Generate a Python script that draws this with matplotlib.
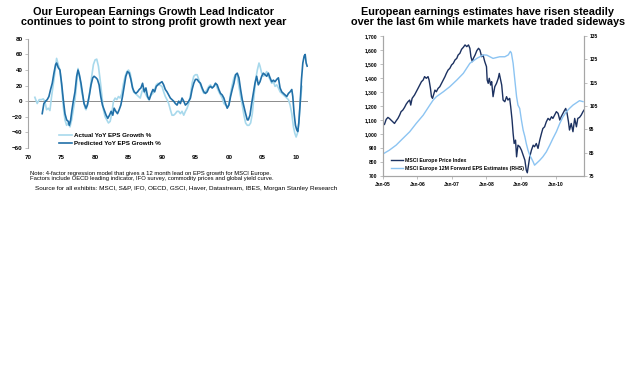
import matplotlib
matplotlib.use("Agg")
import matplotlib.pyplot as plt
from matplotlib.ticker import FuncFormatter

plt.rcParams['font.family'] = ['Liberation Sans', 'DejaVu Sans']

# left chart: YoY EPS growth %, years as decimals
actual_yr = [1971.0, 1971.35, 1971.65, 1972.0, 1972.25, 1972.5, 1972.75, 1973.0, 1973.25, 1973.5,
             1973.85, 1974.05, 1974.25, 1974.5, 1974.75, 1975.0, 1975.25, 1975.5, 1975.75, 1976.0,
             1976.25, 1976.5, 1976.75, 1977.0, 1977.25, 1977.45, 1977.75, 1978.0, 1978.25, 1978.5,
             1978.65, 1979.0, 1979.25, 1979.5, 1979.75, 1980.0, 1980.25, 1980.5, 1980.75, 1981.0,
             1981.25, 1981.5, 1981.75, 1982.0, 1982.25, 1982.5, 1982.75, 1983.0, 1983.25, 1983.5,
             1983.75, 1984.0, 1984.25, 1984.5, 1984.75, 1985.0, 1985.25, 1985.5, 1985.75, 1986.0,
             1986.25, 1986.5, 1986.75, 1987.0, 1987.25, 1987.5, 1987.75, 1988.0, 1988.4, 1988.65,
             1988.9, 1989.15, 1989.4, 1989.65, 1990.0, 1990.25, 1990.5, 1990.75, 1991.0, 1991.25,
             1991.5, 1991.75, 1992.0, 1992.25, 1992.5, 1992.75, 1993.0, 1993.25, 1993.5, 1993.75,
             1994.0, 1994.25, 1994.5, 1994.75, 1995.0, 1995.25, 1995.5, 1995.75, 1996.0, 1996.25,
             1996.5, 1996.75, 1997.0, 1997.25, 1997.5, 1997.75, 1998.0, 1998.25, 1998.5, 1998.75,
             1999.0, 1999.25, 1999.5, 1999.75, 2000.0, 2000.25, 2000.5, 2000.75, 2001.0, 2001.25,
             2001.5, 2001.75, 2002.0, 2002.25, 2002.5, 2002.75, 2003.0, 2003.25, 2003.5, 2003.75,
             2004.0, 2004.25, 2004.5, 2004.65, 2004.9, 2005.15, 2005.4, 2005.65, 2005.9, 2006.15,
             2006.4, 2006.65, 2006.9, 2007.15, 2007.4, 2007.65, 2007.9, 2008.15, 2008.4, 2008.65,
             2008.9, 2009.15, 2009.4, 2009.65, 2009.85, 2010.05, 2010.25, 2010.45, 2010.65, 2010.9]
actual = [5, -3, 2, 2, 3, 0, -11, -9, -12, 6,
          28, 40, 55, 47, 40, 19, -7, -24, -31, -28,
          -33, -24, -11, 2, 23, 42, 28, 12, 2, -9,
          -11, 0, 15, 32, 47, 53, 54, 45, 28, 8,
          -11, -20, -24, -28, -26, -16, 0, 4, 2, 6,
          4, 10, 23, 32, 38, 40, 36, 23, 12, 10,
          8, 6, 4, 12, 17, 10, 6, 2, 8, 10,
          15, 21, 23, 21, 19, 12, 6, 2, -3, -11,
          -18, -18, -16, -13, -13, -16, -13, -18, -13, -9,
          -3, 8, 23, 32, 34, 34, 28, 21, 15, 10,
          12, 15, 19, 21, 17, 19, 23, 17, 12, 8,
          4, -3, -5, -7, -5, 10, 21, 30, 34, 32,
          19, 6, -5, -18, -28, -31, -31, -28, -16, 6,
          28, 40, 49, 45, 36, 32, 34, 38, 32, 28,
          23, 25, 19, 21, 17, 12, 10, 8, 6, 4,
          2, -5, -16, -33, -41, -46, -41, -28, -3, 19]

pred_yr = [1972.1, 1972.35, 1972.6, 1972.85, 1973.1, 1973.35, 1973.6, 1973.85, 1974.1, 1974.25,
           1974.5, 1974.75, 1975.0, 1975.25, 1975.5, 1975.75, 1976.0, 1976.15, 1976.35, 1976.55,
           1976.75, 1977.0, 1977.25, 1977.45, 1977.65, 1977.9, 1978.15, 1978.35, 1978.65, 1978.85,
           1979.15, 1979.4, 1979.65, 1979.85, 1980.15, 1980.35, 1980.6, 1980.85, 1981.1, 1981.35,
           1981.65, 1981.9, 1982.15, 1982.4, 1982.65, 1982.85, 1983.1, 1983.35, 1983.6, 1983.85,
           1984.1, 1984.35, 1984.6, 1984.85, 1985.1, 1985.35, 1985.6, 1985.85, 1986.1, 1986.35,
           1986.6, 1986.85, 1987.1, 1987.35, 1987.6, 1987.85, 1988.1, 1988.4, 1988.65, 1988.9,
           1989.15, 1989.4, 1989.65, 1990.0, 1990.25, 1990.5, 1990.75, 1991.0, 1991.25, 1991.5,
           1991.75, 1992.0, 1992.25, 1992.5, 1992.75, 1993.0, 1993.25, 1993.5, 1993.75, 1994.0,
           1994.25, 1994.5, 1994.75, 1995.0, 1995.25, 1995.5, 1995.75, 1996.0, 1996.25, 1996.5,
           1996.75, 1997.0, 1997.25, 1997.5, 1997.75, 1998.0, 1998.25, 1998.5, 1998.75, 1999.0,
           1999.25, 1999.5, 1999.75, 2000.0, 2000.25, 2000.5, 2000.75, 2001.0, 2001.25, 2001.5,
           2001.75, 2002.0, 2002.25, 2002.5, 2002.75, 2002.9, 2003.15, 2003.4, 2003.65, 2003.9,
           2004.15, 2004.4, 2004.65, 2004.9, 2005.15, 2005.4, 2005.65, 2005.9, 2006.15, 2006.4,
           2006.65, 2006.9, 2007.15, 2007.4, 2007.65, 2007.9, 2008.15, 2008.4, 2008.65, 2008.9,
           2009.15, 2009.4, 2009.55, 2009.75, 2009.95, 2010.15, 2010.3, 2010.45, 2010.65, 2010.85,
           2011.05, 2011.25, 2011.4, 2011.55, 2011.7]
predicted = [-16, -3, 0, 2, 6, 15, 23, 36, 47, 49,
             43, 40, 23, 2, -16, -24, -26, -31, -24, -11,
             0, 12, 32, 40, 34, 23, 8, -3, -9, -5,
             8, 21, 30, 32, 30, 28, 21, 6, -5, -11,
             -18, -22, -18, -13, -18, -9, -13, -16, -11, -5,
             6, 19, 32, 38, 36, 28, 17, 12, 10, 12,
             15, 17, 23, 12, 17, 6, 2, 10, 15, 12,
             19, 21, 23, 25, 21, 15, 12, 8, 4, 2,
             0, -3, -5, 0, -3, 4, 0, -5, -3, 0,
             4, 15, 23, 28, 28, 25, 23, 17, 12, 10,
             12, 17, 19, 17, 19, 23, 21, 15, 10, 8,
             4, -3, -9, -5, 6, 15, 23, 34, 36, 30,
             15, 2, -7, -16, -24, -24, -18, -3, 10, 23,
             32, 21, 25, 32, 36, 34, 32, 36, 30, 25,
             27, 25, 28, 30, 17, 12, 10, 8, 6, 10,
             12, 15, 6, -16, -31, -37, -39, -28, -3, 28,
             49, 58, 60, 49, 45]

left_xticks = [1970, 1975, 1980, 1985, 1990, 1995, 2000, 2005, 2010]
left_xlabels = ['70', '75', '80', '85', '90', '95', '00', '05', '10']

# right chart: MSCI Europe price index (LHS) and 12M fwd EPS (RHS)
price_yr = [2005.00, 2005.05, 2005.10, 2005.15, 2005.19, 2005.24, 2005.29, 2005.34, 2005.39, 2005.44,
            2005.49, 2005.53, 2005.58, 2005.63, 2005.68, 2005.73, 2005.78, 2005.81, 2005.85, 2005.92,
            2005.97, 2006.02, 2006.07, 2006.12, 2006.17, 2006.21, 2006.26, 2006.31, 2006.34, 2006.38,
            2006.41, 2006.44, 2006.48, 2006.51, 2006.55, 2006.60, 2006.65, 2006.70, 2006.75, 2006.80,
            2006.84, 2006.89, 2006.94, 2006.99, 2007.04, 2007.09, 2007.14, 2007.18, 2007.23, 2007.28,
            2007.33, 2007.38, 2007.43, 2007.48, 2007.52, 2007.55, 2007.59, 2007.62, 2007.67, 2007.72,
            2007.77, 2007.81, 2007.86, 2007.90, 2007.95, 2008.00, 2008.02, 2008.05, 2008.08, 2008.12,
            2008.15, 2008.19, 2008.24, 2008.29, 2008.34, 2008.37, 2008.40, 2008.44, 2008.48, 2008.53,
            2008.58, 2008.62, 2008.67, 2008.70, 2008.74, 2008.77, 2008.80, 2008.84, 2008.87, 2008.91,
            2008.96, 2009.01, 2009.06, 2009.11, 2009.15, 2009.18, 2009.22, 2009.25, 2009.30, 2009.35,
            2009.39, 2009.44, 2009.49, 2009.54, 2009.59, 2009.63, 2009.68, 2009.73, 2009.78, 2009.83,
            2009.88, 2009.92, 2009.97, 2010.02, 2010.07, 2010.12, 2010.16, 2010.21, 2010.26, 2010.29,
            2010.33, 2010.37, 2010.40, 2010.45, 2010.50, 2010.55, 2010.60, 2010.64, 2010.69, 2010.74,
            2010.79, 2010.82]
price = [1064, 1069, 1105, 1119, 1112, 1100, 1088, 1076, 1095, 1112,
         1136, 1160, 1171, 1190, 1214, 1231, 1243, 1207, 1255, 1279,
         1302, 1326, 1350, 1374, 1386, 1410, 1398, 1410, 1386, 1326,
         1267, 1255, 1290, 1314, 1302, 1326, 1338, 1362, 1386, 1410,
         1433, 1457, 1469, 1493, 1505, 1529, 1540, 1564, 1576, 1605,
         1619, 1636, 1624, 1636, 1612, 1552, 1517, 1540, 1564, 1595,
         1612, 1600, 1552, 1564, 1517, 1481, 1386, 1362, 1398, 1350,
         1374, 1267, 1338, 1362, 1398, 1433, 1398, 1350, 1243, 1231,
         1267, 1243, 1255, 1195, 1100, 1005, 933, 957, 838, 921,
         910, 886, 850, 814, 743, 724, 790, 838, 886, 921,
         910, 933, 898, 957, 1005, 1040, 1052, 1088, 1112, 1100,
         1124, 1112, 1136, 1160, 1148, 1100, 1124, 1148, 1171, 1183,
         1148, 1088, 1029, 1076, 1017, 1112, 1052, 1112, 1119, 1136,
         1160, 1171]

eps_yr = [2005.03, 2005.19, 2005.39, 2005.58, 2005.78, 2005.97, 2006.17, 2006.36, 2006.46, 2006.55,
          2006.75, 2006.94, 2007.14, 2007.33, 2007.52, 2007.72, 2007.91, 2008.01, 2008.19, 2008.38,
          2008.53, 2008.63, 2008.69, 2008.72, 2008.77, 2008.82, 2008.87, 2008.91, 2008.96, 2009.01,
          2009.06, 2009.11, 2009.15, 2009.20, 2009.25, 2009.30, 2009.35, 2009.39, 2009.44, 2009.49,
          2009.54, 2009.63, 2009.73, 2009.83, 2009.92, 2010.02, 2010.12, 2010.21, 2010.31, 2010.40,
          2010.50, 2010.60, 2010.69, 2010.79]
eps = [84.7, 86.1, 88.3, 91.1, 94.0, 97.6, 101.1, 105.4, 107.6, 109.0,
       111.1, 113.3, 116.1, 119.0, 123.3, 125.4, 126.9, 126.8, 125.4, 126.1,
       126.1, 126.9, 128.4, 127.7, 123.3, 116.1, 109.0, 105.4, 104.0, 99.0,
       94.7, 91.9, 89.0, 86.1, 84.0, 82.6, 81.1, 79.7, 80.4, 81.1,
       81.8, 83.3, 85.4, 88.3, 91.1, 94.0, 97.6, 100.4, 102.6, 104.0,
       105.4, 106.4, 107.3, 106.9]

right_xticks = [2005, 2006, 2007, 2008, 2009, 2010]
right_xlabels = ['Jan-05', 'Jan-06', 'Jan-07', 'Jan-08', 'Jan-09', 'Jan-10']

c_actual = '#a8d9ec'
c_pred = '#2170a8'
c_price = '#1c3160'
c_eps = '#8cc4f2'
c_axis = '#a6a6a6'

fig = plt.figure(figsize=(6.4, 3.67), dpi=100)

# ---- left chart ----
ax = fig.add_axes([0.044, 0.597, 0.437, 0.297])
ax.plot(actual_yr, actual, color=c_actual, lw=1.2, label='Actual YoY EPS Growth %')
ax.plot(pred_yr, predicted, color=c_pred, lw=1.2, label='Predicted YoY EPS Growth %')
ax.axhline(0, color='#8c8c8c', lw=0.7, zorder=0)
ax.set_xlim(1970, 2011.8)
ax.set_ylim(-60, 80)
ax.set_yticks(range(-60, 81, 20))
ax.set_xticks(left_xticks)
ax.set_xticklabels(left_xlabels)
for s in ['top', 'right', 'bottom']:
    ax.spines[s].set_visible(False)
ax.spines['left'].set_color(c_axis)
ax.spines['left'].set_linewidth(0.8)
ax.tick_params(axis='y', labelsize=4.5, length=2, width=0.5, color=c_axis, pad=2)
ax.tick_params(axis='x', labelsize=4.5, length=0, pad=5)
for t in ax.get_xticklabels() + ax.get_yticklabels():
    t.set_fontweight('bold')
ax.legend(loc='lower left', bbox_to_anchor=(0.1, -0.01), frameon=False,
          prop={'size': 4.5, 'weight': 'bold'}, handlelength=2.0, labelspacing=0.35,
          handletextpad=0.3, borderpad=0)

fig.text(0.24, 0.982, 'Our European Earnings Growth Lead Indicator\ncontinues to point to strong profit growth next year',
         ha='center', va='top', fontsize=7.8, fontweight='bold', linespacing=1.05)

fig.text(0.047, 0.535, 'Note: 4-factor regression model that gives a 12 month lead on EPS growth for MSCI Europe.\n'
         'Factors include OECD leading indicator, IFO survey, commodity prices and global yield curve.',
         ha='left', va='top', fontsize=4.2, linespacing=1.15)
fig.text(0.055, 0.494, 'Source for all exhibits: MSCI, S&P, IFO, OECD, GSCI, Haver, Datastream, IBES, Morgan Stanley Research',
         ha='left', va='top', fontsize=4.6)

# ---- right chart ----
ax2 = fig.add_axes([0.598, 0.520, 0.314, 0.382])
ax2.plot(price_yr, price, color=c_price, lw=1.0, label='MSCI Europe Price Index')
ax3 = ax2.twinx()
ax3.plot(eps_yr, eps, color=c_eps, lw=1.0, label='MSCI Europe 12M Forward EPS Estimates (RHS)')
ax2.set_xlim(2005, 2010.81)
ax2.set_ylim(700, 1700)
ax2.set_yticks(range(700, 1701, 100))
ax2.yaxis.set_major_formatter(FuncFormatter(lambda v, p: f'{int(v):,}'))
ax3.set_ylim(75, 135)
ax3.set_yticks(range(75, 136, 10))
ax2.set_xticks(right_xticks)
ax2.set_xticklabels(right_xlabels)
for a in (ax2, ax3):
    a.spines['top'].set_visible(False)
    for s in ['left', 'right', 'bottom']:
        a.spines[s].set_color(c_axis)
        a.spines[s].set_linewidth(0.8)
    a.tick_params(labelsize=3.6, length=2, width=0.5, color=c_axis, pad=2)
    for t in a.get_xticklabels() + a.get_yticklabels():
        t.set_fontweight('bold')
h1, l1 = ax2.get_legend_handles_labels()
h2, l2 = ax3.get_legend_handles_labels()
ax3.legend(h1 + h2, l1 + l2, loc='lower left', bbox_to_anchor=(0.03, 0.02), frameon=False,
           prop={'size': 3.7, 'weight': 'bold'}, handlelength=2.2, labelspacing=0.6,
           handletextpad=0.5, borderpad=0)

fig.text(0.762, 0.982, 'European earnings estimates have risen steadily\nover the last 6m while markets have traded sideways',
         ha='center', va='top', fontsize=7.8, fontweight='bold', linespacing=1.05)

fig.savefig('out.png', dpi=100)
